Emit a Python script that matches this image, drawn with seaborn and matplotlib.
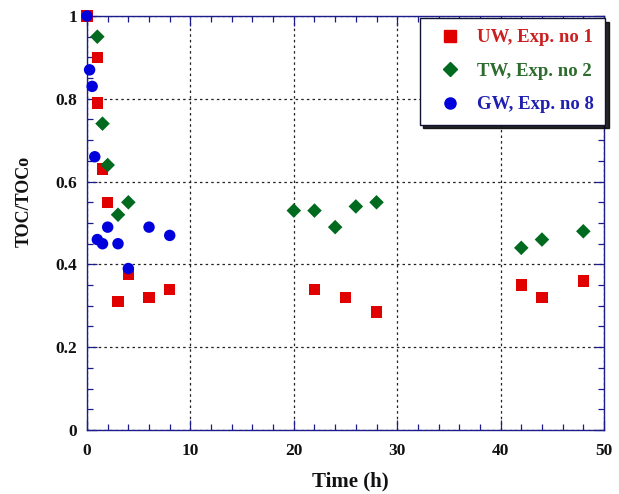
import numpy as np
import pandas as pd
import matplotlib
matplotlib.use("Agg")
import matplotlib.pyplot as plt
from matplotlib.ticker import MultipleLocator
from matplotlib.lines import Line2D
import seaborn as sns

# ---- data ----
uw_time = [0, 1, 1, 1.5, 2, 3, 4, 6, 8, 22, 25, 28, 42, 44, 48]
uw_toc = [1.0, 0.90, 0.79, 0.63, 0.55, 0.31, 0.375, 0.32, 0.34, 0.34, 0.32, 0.285, 0.35, 0.32, 0.36]

tw_time = [1, 1.5, 2, 3, 4, 20, 22, 24, 26, 28, 42, 44, 48]
tw_toc = [0.95, 0.74, 0.64, 0.52, 0.55, 0.53, 0.53, 0.49, 0.54, 0.55, 0.44, 0.46, 0.48]

gw_time = [0, 0.25, 0.5, 0.75, 1, 1.5, 2, 3, 4, 6, 8]
gw_toc = [1.0, 0.87, 0.83, 0.66, 0.46, 0.45, 0.49, 0.45, 0.39, 0.49, 0.47]

series_labels = ["UW, Exp. no 1", "TW, Exp. no 2", "GW, Exp. no 8"]
x_label = "Time (h)"
y_label = "TOC/TOCo"

# ---- styling ----
sns.set_theme(style="white")
plt.rcParams["font.family"] = ["Liberation Serif", "DejaVu Serif"]
plt.rcParams["font.weight"] = "bold"

marker_colors = {series_labels[0]: "#e00000", series_labels[1]: "#006a1e", series_labels[2]: "#0000dd"}
text_colors = {series_labels[0]: "#cc2020", series_labels[1]: "#2e6b2e", series_labels[2]: "#2020b0"}
markers = {series_labels[0]: "s", series_labels[1]: "D", series_labels[2]: "o"}
sizes = {series_labels[0]: 68, series_labels[1]: 55, series_labels[2]: 68}

df = pd.concat([
    pd.DataFrame({"time": uw_time, "toc": uw_toc, "series": series_labels[0]}),
    pd.DataFrame({"time": tw_time, "toc": tw_toc, "series": series_labels[1]}),
    pd.DataFrame({"time": gw_time, "toc": gw_toc, "series": series_labels[2]}),
], ignore_index=True)

fig = plt.figure(figsize=(6.19, 4.94), dpi=100)
ax = fig.add_axes([87 / 619, 1 - 430 / 494, (604 - 87) / 619, (430 - 16) / 494])

for i, lab in enumerate(series_labels):
    sub = df[df["series"] == lab]
    sns.scatterplot(data=sub, x="time", y="toc", ax=ax, color=marker_colors[lab],
                    marker=markers[lab], s=sizes[lab], edgecolor="none", linewidth=0,
                    zorder=3 + i, legend=False, clip_on=False)

ax.set_xlim(0, 50)
ax.set_ylim(0, 1)
ax.xaxis.set_major_locator(MultipleLocator(10))
ax.xaxis.set_minor_locator(MultipleLocator(2))
ax.yaxis.set_major_locator(MultipleLocator(0.2))
ax.yaxis.set_minor_locator(MultipleLocator(0.05))
ax.set_xticks(np.arange(0, 51, 10))
ax.set_xticklabels([str(v) for v in range(0, 51, 10)])
ax.set_yticks([0, 0.2, 0.4, 0.6, 0.8, 1.0])
ax.set_yticklabels(["0", "0.2", "0.4", "0.6", "0.8", "1"])

spine_color = "#1c1c8a"
for sp in ax.spines.values():
    sp.set_color(spine_color)
    sp.set_linewidth(1.0)
    sp.set_visible(True)

ax.tick_params(which="both", direction="in", top=True, right=True, bottom=True, left=True,
               color=spine_color, width=0.9)
ax.tick_params(which="major", length=7, labelsize=12.5, labelcolor="#111111")
ax.tick_params(axis="x", which="major", pad=9)
ax.tick_params(axis="y", which="major", pad=7)
ax.tick_params(which="minor", length=4)
for lbl in ax.get_xticklabels() + ax.get_yticklabels():
    lbl.set_fontweight("bold")

ax.grid(True, which="major", color="#222222", linestyle=(0, (2, 2.5)), linewidth=0.9)
ax.set_axisbelow(True)

ax.set_xlabel(x_label, fontsize=15, fontweight="bold", color="#111111")
ax.set_ylabel(y_label, fontsize=13, fontweight="bold", color="#111111")
ax.xaxis.set_label_coords((350 - 87) / 517, (430 - 471) / 414)
ax.yaxis.set_label_coords((33 - 87) / 517, (430 - 201) / 414)

handles = [Line2D([], [], linestyle="none", marker=markers[l], color=marker_colors[l],
                  markersize=(8 if markers[l] != "D" else 7)) for l in series_labels]
leg = ax.legend(handles, series_labels, loc="upper right", bbox_to_anchor=(1.002, 0.995),
                frameon=True, shadow={"ox": 2.5, "oy": -2.5, "color": "black", "alpha": 0.85},
                fancybox=False, borderpad=0.6, labelspacing=0.87, handlelength=2.0,
                handletextpad=0.45, borderaxespad=0.0,
                prop={"weight": "bold", "size": 13.5})
leg.get_frame().set_edgecolor("#111133")
leg.get_frame().set_linewidth(1.0)
leg.get_frame().set_alpha(1.0)
for txt, l in zip(leg.get_texts(), series_labels):
    txt.set_color(text_colors[l])

fig.savefig("out.png", dpi=100)
